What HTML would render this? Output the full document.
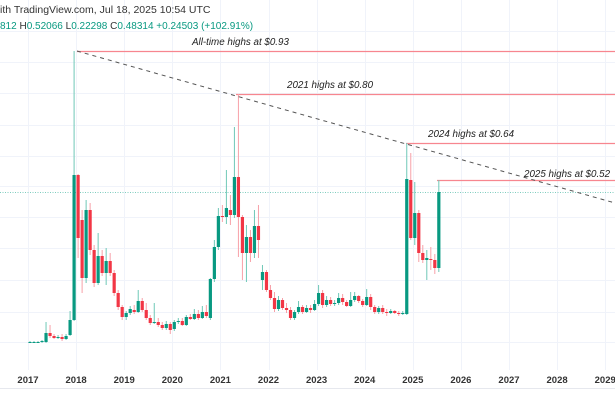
<!DOCTYPE html>
<html><head><meta charset="utf-8">
<style>
html,body{margin:0;padding:0;background:#fff;}
svg{display:block;font-family:"Liberation Sans",sans-serif;}
</style></head>
<body>
<svg id="c" width="615" height="410" viewBox="0 0 615 410" xmlns="http://www.w3.org/2000/svg">
<g id="grid" stroke="#f0f3fa" stroke-width="1"></g>
<line x1="0" y1="192.5" x2="615" y2="192.5" stroke="#7fcdbf" stroke-width="1" stroke-dasharray="1,1.5"/>
<line x1="77" y1="51.5" x2="615" y2="51.5" stroke="#f7868f" stroke-width="1.3"/>
<line x1="236" y1="94.5" x2="615" y2="94.5" stroke="#f7868f" stroke-width="1.3"/>
<line x1="406" y1="143.5" x2="615" y2="143.5" stroke="#f7868f" stroke-width="1.3"/>
<line x1="437" y1="180.5" x2="615" y2="180.5" stroke="#f7868f" stroke-width="1.3"/>
<g id="candles"></g>
<line x1="77" y1="51" x2="615" y2="203" stroke="#555" stroke-width="1" stroke-dasharray="4,4"/>
<g font-style="italic" font-size="9.8" fill="#222">
<text x="192" y="45">All-time highs at $0.93</text>
<text x="287" y="88">2021 highs at $0.80</text>
<text x="428" y="137">2024 highs at $0.64</text>
<text x="524" y="177">2025 highs at $0.52</text>
</g>
<text x="0" y="13" font-size="10.5" fill="#333">ith TradingView.com, Jul 18, 2025 10:54 UTC</text>
<text x="0" y="29" font-size="10" fill="#089981">812 <tspan fill="#333">H</tspan>0.52066 <tspan fill="#333">L</tspan>0.22298 <tspan fill="#333">C</tspan>0.48314 +0.24503 (+102.91%)</text>
<line x1="0" y1="388.5" x2="615" y2="388.5" stroke="#e6e8ee"/>
<g id="xl" font-size="9.5" font-weight="bold" fill="#333" text-anchor="middle"></g>
</svg>
<script>
var NS="http://www.w3.org/2000/svg";
function el(p,t,a){var e=document.createElementNS(NS,t);for(var k in a)e.setAttribute(k,a[k]);p.appendChild(e);return e;}
var g=document.getElementById('grid');
[31,62,93,125,156,186,217,248,280,312,342].forEach(function(y){el(g,'line',{x1:0,x2:615,y1:y+.5,y2:y+.5});});
var xl=document.getElementById('xl');
for(var yr=2017;yr<=2029;yr++){var x=28+48.1*(yr-2017);el(g,'line',{x1:Math.round(x)+.5,x2:Math.round(x)+.5,y1:0,y2:370});
var t=el(xl,'text',{x:x,y:383});t.textContent=yr;}
var d=[
[342,342,341,343],[342,342,341,343],[342,342,341,343],[342,341,340,343],[342,333,322,343],[333,336,325,338],[336,338,334,339],[338,337,335,339],[337,339,334,341],[339,336,334,340],[335,320,311,336],[320,175,51,321],
[175,238,174,258],[220,278,210,293],[278,210,200,283],[210,250,203,255],[250,283,245,287],[283,256,233,285],[256,273,250,276],[273,261,248,285],[261,273,253,276],[273,293,270,296],[293,307,290,310],[307,317,305,320],
[317,313,311,320],[313,309,306,315],[310,312,305,314],[312,301,290,313],[301,310,298,312],[310,318,303,320],[318,323,315,325],[323,322,303,324],[322,325,318,327],[325,328,322,330],[328,324,321,330],[324,330,322,334],
[329,322,320,331],[322,321,318,324],[321,325,318,326],[325,317,315,326],[317,319,314,320],[319,314,309,320],[314,318,310,320],[318,312,306,319],[312,316,305,318],[318,279,278,320],[279,247,240,282],[247,216,208,250],
[216,217,205,222],[217,208,170,224],[210,215,195,225],[215,177,127,218],[177,217,94,257],[217,253,215,280],[253,237,225,282],[237,253,230,262],[253,226,210,258],[226,240,205,258],[240,260,235,280],[260,280,258,285],[280,272,265,290],[272,290,270,292],
[290,298,285,300],[298,309,292,312],[309,300,296,311],[300,308,298,310],[308,310,303,313],[310,318,307,320],[318,312,310,320],[312,307,301,314],[307,312,305,314],[312,308,305,313],[308,310,305,313],[310,304,300,311],
[304,293,285,306],[293,305,290,308],[305,300,296,307],[300,304,297,306],[304,303,300,306],[303,298,293,305],[298,302,294,305],[302,306,300,307],[306,300,292,307],[300,296,292,302],[296,301,295,303],[301,305,299,307],
[305,297,289,306],[297,307,294,310],[307,312,305,314],[312,308,306,314],[308,312,305,314],[312,313,309,316],[313,311,309,314],[311,313,310,314],[313,314,311,316],[314,313,311,315],[314,179,143,315],[180,238,153,240],
[238,213,182,245],[213,253,210,262],[253,260,245,263],[260,258,250,280],[259,260,247,270],[260,268,254,274],[268,192,180,272]];
d.splice(58,2);
var cg=document.getElementById('candles');
d.forEach(function(c,i){var x=28+(i+0.5)*4.008;var up=c[1]<=c[0];
var col=up?'#089981':'#f23645',wc=up?'#6fc8b7':'#f7a1a8';
el(cg,'line',{x1:x,x2:x,y1:c[2],y2:c[3],stroke:wc,'stroke-width':1});
var top=Math.min(c[0],c[1]),h=Math.max(1,Math.abs(c[1]-c[0]));
el(cg,'rect',{x:x-1.6,y:top,width:3.2,height:h,fill:col});});
</script>
</body></html>
